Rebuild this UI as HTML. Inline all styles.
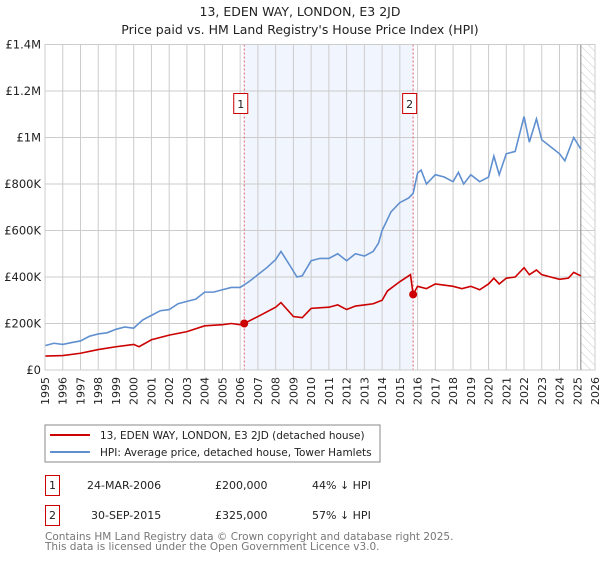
<!DOCTYPE html>
<html><head><meta charset="utf-8"><style>
body{margin:0;background:#fff;font-family:"Liberation Sans","DejaVu Sans",sans-serif;}
svg text{font-family:"DejaVu Sans","Liberation Sans",sans-serif;}
</style></head><body>
<svg id="c" width="600" height="560" viewBox="0 0 600 560" xmlns="http://www.w3.org/2000/svg">
<defs><pattern id="hatch" width="6" height="6" patternUnits="userSpaceOnUse" patternTransform="rotate(-45)"><line x1="0" y1="0" x2="0" y2="6" stroke="#ccc" stroke-width="1"/></pattern></defs>
<text x="300" y="16" text-anchor="middle" font-size="12.5" fill="#222">13, EDEN WAY, LONDON, E3 2JD</text>
<text x="300" y="34" text-anchor="middle" font-size="12.5" fill="#222">Price paid vs. HM Land Registry's House Price Index (HPI)</text>
<g id="plot"></g>
<rect x="45" y="425" width="335" height="37" fill="#fff" stroke="#888"/>
<line x1="50" y1="435" x2="90" y2="435" stroke="#cc0000" stroke-width="2"/>
<text x="100" y="439" font-size="10.5" fill="#222">13, EDEN WAY, LONDON, E3 2JD (detached house)</text>
<line x1="50" y1="452" x2="90" y2="452" stroke="#6090d0" stroke-width="2"/>
<text x="100" y="456" font-size="10.5" fill="#222">HPI: Average price, detached house, Tower Hamlets</text>
<g font-size="11" fill="#222">
<rect x="45.5" y="475.5" width="14" height="20" fill="none" stroke="#cc0000"/>
<text x="52.5" y="489" text-anchor="middle">1</text>
<text x="87" y="489">24-MAR-2006</text><text x="215" y="489">£200,000</text><text x="312" y="489">44% ↓ HPI</text>
<rect x="45.5" y="505.5" width="14" height="20" fill="none" stroke="#cc0000"/>
<text x="52.5" y="519" text-anchor="middle">2</text>
<text x="91" y="519">30-SEP-2015</text><text x="215" y="519">£325,000</text><text x="312" y="519">57% ↓ HPI</text>
</g>
<text x="45" y="540" font-size="10.5" fill="#777">Contains HM Land Registry data © Crown copyright and database right 2025.</text>
<text x="45" y="550" font-size="10.5" fill="#777">This data is licensed under the Open Government Licence v3.0.</text>
</svg>
<script>
const hpiYears=[1995,1995.5,1996,1996.5,1997,1997.5,1998,1998.5,1999,1999.5,2000,2000.5,2001,2001.5,2002,2002.5,2003,2003.5,2004,2004.5,2005,2005.5,2006,2006.5,2007,2007.5,2008,2008.3,2008.8,2009.2,2009.5,2010,2010.5,2011,2011.5,2012,2012.5,2013,2013.5,2013.8,2014,2014.5,2015,2015.5,2015.75,2016,2016.2,2016.5,2017,2017.5,2018,2018.3,2018.6,2019,2019.5,2020,2020.3,2020.6,2021,2021.5,2022,2022.3,2022.7,2023,2023.5,2024,2024.3,2024.8,2025.2];
const hpiValues=[105,115,110,118,125,145,155,160,175,185,180,215,235,255,260,285,295,305,335,335,345,355,355,380,410,440,475,510,450,400,405,470,480,480,500,470,500,490,510,546,600,680,720,740,760,847,860,800,840,830,810,850,800,840,810,830,920,840,930,940,1090,980,1080,990,960,930,900,1000,950];
const paidYears=[1995,1996,1997,1998,1999,2000,2000.3,2001,2002,2003,2004,2005,2005.5,2006,2006.23,2007,2008,2008.3,2009,2009.5,2010,2011,2011.5,2012,2012.5,2013,2013.5,2014,2014.3,2015,2015.6,2015.75,2016,2016.5,2017,2018,2018.5,2019,2019.5,2020,2020.3,2020.6,2021,2021.5,2022,2022.3,2022.7,2023,2023.5,2024,2024.5,2024.8,2025.2];
const paidValues=[60,62,72,88,100,110,100,130,150,165,190,195,200,195,200,230,270,290,230,225,265,270,280,260,275,280,285,300,340,380,410,325,360,350,370,360,350,360,345,370,395,370,395,400,440,410,430,410,400,390,395,420,405];
const saleYears=[2006.23,2015.75];
const saleValues=[200,325];
const saleLabels=["1","2"];
const yTicks=[0,200,400,600,800,1000,1200,1400];
const yTickLabels=["£0","£200K","£400K","£600K","£800K","£1M","£1.2M","£1.4M"];
const xTicks=[1995,1996,1997,1998,1999,2000,2001,2002,2003,2004,2005,2006,2007,2008,2009,2010,2011,2012,2013,2014,2015,2016,2017,2018,2019,2020,2021,2022,2023,2024,2025,2026];

const L=45,R=595,T=44.5,B=370,X0=1995,X1=2026,YMAX=1400,dataEnd=2025.2;
const sx=y=>L+(y-X0)/(X1-X0)*(R-L);
const sy=v=>B-v/YMAX*(B-T);
const NS="http://www.w3.org/2000/svg";
const g=document.getElementById('plot');
function mk(tag,attrs){const e=document.createElementNS(NS,tag);for(const k in attrs)e.setAttribute(k,attrs[k]);g.appendChild(e);return e;}
let e;
e=mk('rect',{x:sx(saleYears[0]),y:T,width:sx(saleYears[1])-sx(saleYears[0]),height:B-T,fill:'#f1f5fd'});


e=mk('rect',{x:sx(dataEnd),y:T,width:R-sx(dataEnd),height:B-T,fill:'url(#hatch)'});


xTicks.forEach((t,i)=>{
 e=mk('line',{x1:sx(t),x2:sx(t),y1:T,y2:B,stroke:'#ccc','stroke-width':1});
 
 
 e=mk('text',{x:0,y:0,'font-size':11,fill:'#222','text-anchor':'end',transform:`translate(${sx(t)+4},${B+7}) rotate(-90)`});
 e.textContent=t;
 
 
});
yTicks.forEach((t,i)=>{
 e=mk('line',{x1:L,x2:R,y1:sy(t),y2:sy(t),stroke:'#ccc','stroke-width':1});
 
 
 e=mk('text',{x:L-4,y:sy(t)+4,'font-size':11.5,fill:'#222','text-anchor':'end'});
 e.textContent=yTickLabels[i];
 
 
});
e=mk('line',{x1:sx(dataEnd),x2:sx(dataEnd),y1:T,y2:B,stroke:'#888','stroke-width':1});


saleYears.forEach((t,i)=>{
 e=mk('line',{x1:sx(t),x2:sx(t),y1:T,y2:B,stroke:'#e06070','stroke-width':1,'stroke-dasharray':'2,2'});
 
 
});
e=mk('polyline',{points:hpiYears.map((y,i)=>sx(y)+','+sy(hpiValues[i])).join(' '),fill:'none',stroke:'#6090d0','stroke-width':1.6});


e=mk('polyline',{points:paidYears.map((y,i)=>sx(y)+','+sy(paidValues[i])).join(' '),fill:'none',stroke:'#cc0000','stroke-width':1.6});


saleYears.forEach((t,i)=>{
 e=mk('circle',{cx:sx(t),cy:sy(saleValues[i]),r:4,fill:'#cc0000'});
 
 
 e=mk('rect',{x:sx(t)-10.5,y:93.5,width:14,height:20,fill:'#fff',stroke:'#cc0000'});
 
 
 e=mk('text',{x:sx(t)-3.5,y:108,'font-size':11,fill:'#222','text-anchor':'middle'});
 e.textContent=saleLabels[i];
 
 
});
e=mk('rect',{x:L,y:T,width:R-L,height:B-T,fill:'none',stroke:'#ccc'});


</script>
</body></html>
